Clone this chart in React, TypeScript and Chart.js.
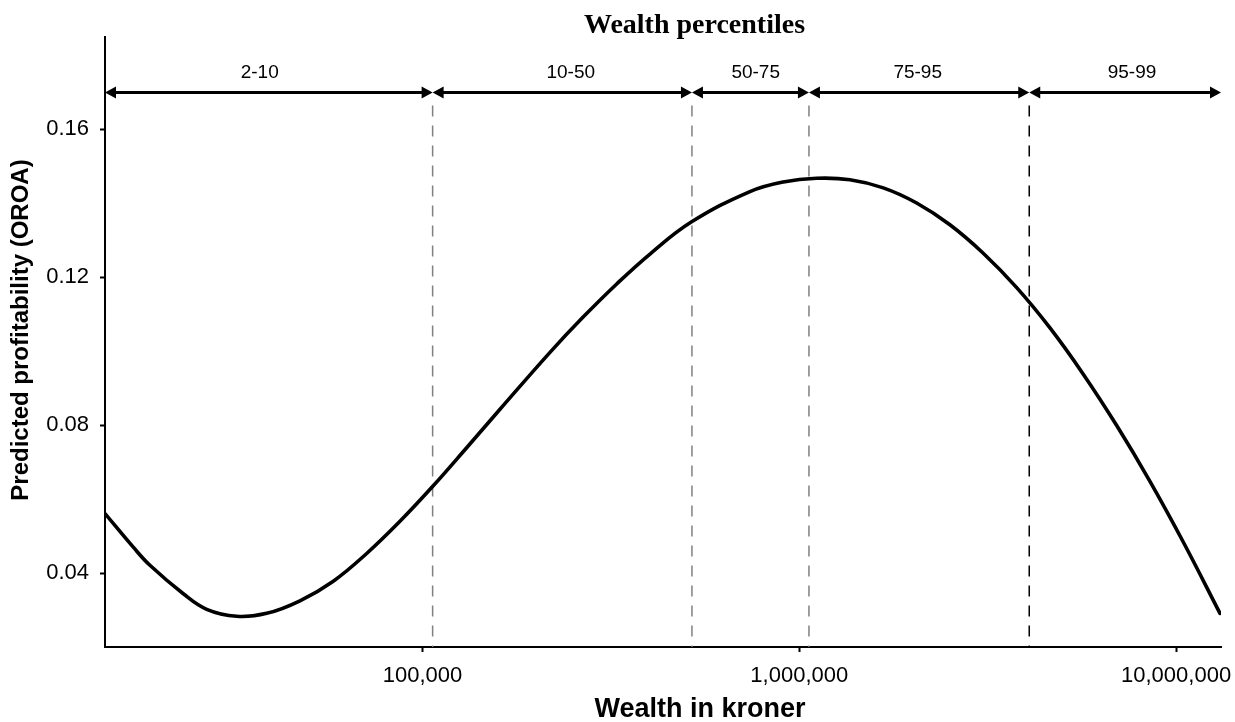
import React, { useEffect, useRef } from "react";
import { Chart, registerables } from "chart.js";

Chart.register(...registerables);

// Wealth in kroner (x) and predicted profitability (y)
const WEALTH = [
  14370, 17080, 18910, 23190, 26750, 32130, 38590, 47300, 57990, 71110,
  87150, 106800, 131000, 160600, 218000, 267300, 327700, 401600, 518000,
  739800, 906800, 1112000, 1363000, 1671000, 2049000, 2511000, 3078000,
  3776000, 4628000, 5672000, 6958000, 8525000, 10450000, 13080000,
];
const OROA = [
  0.0561, 0.047, 0.0421, 0.0344, 0.0302, 0.0283, 0.0291, 0.0325, 0.0378, 0.0453,
  0.054, 0.0636, 0.0739, 0.0843, 0.0997, 0.1093, 0.1182, 0.1263, 0.135,
  0.1432, 0.1458, 0.1468, 0.1464, 0.1442, 0.1401, 0.1342, 0.1265,
  0.1172, 0.1063, 0.0938, 0.0799, 0.0648, 0.0484, 0.0291,
];

const X_TICKS = [100000, 1000000, 10000000];
const Y_TICKS = [0.04, 0.08, 0.12, 0.16];
const X_MIN = 14370;
const X_MAX = 13160000;
const Y_MIN = 0.02;
const Y_MAX = 0.185;

// Percentile band boundaries (wealth) and labels
const BOUNDARIES = [106400, 519000, 1061000, 4077000];
const BAND_LABELS = ["2-10", "10-50", "50-75", "75-95", "95-99"];
const BAND_LABEL_AT = [36980, 247500, 766300, 2062000, 7638000];
const ARROW_LEVEL = 0.17;

const TITLE = "Wealth percentiles";
const X_TITLE = "Wealth in kroner";
const Y_TITLE = "Predicted profitability (OROA)";

const SANS = "'Liberation Sans', Arial, sans-serif";
const SERIF = "'Liberation Serif', 'Times New Roman', serif";

function arrowHead(ctx: CanvasRenderingContext2D, tipX: number, y: number, dir: number) {
  const len = 11;
  const half = 6;
  ctx.beginPath();
  ctx.moveTo(tipX, y);
  ctx.lineTo(tipX - dir * len, y - half);
  ctx.lineTo(tipX - dir * len, y + half);
  ctx.closePath();
  ctx.fill();
}

const overlay = {
  id: "overlay",
  beforeDatasetsDraw(chart: any) {
    const { ctx, chartArea, scales } = chart;
    const x = scales.x;
    const y = scales.y;
    const ay = y.getPixelForValue(ARROW_LEVEL);
    ctx.save();
    ctx.lineWidth = 1.5;
    ctx.setLineDash([11, 9]);
    BOUNDARIES.forEach((b, i) => {
      const px = x.getPixelForValue(b);
      ctx.strokeStyle = i === BOUNDARIES.length - 1 ? "#000000" : "#808080";
      ctx.beginPath();
      ctx.moveTo(px, ay + 13);
      ctx.lineTo(px, chartArea.bottom);
      ctx.stroke();
    });
    ctx.restore();
  },
  afterDatasetsDraw(chart: any) {
    const { ctx, chartArea, scales } = chart;
    const x = scales.x;
    const y = scales.y;
    const ay = y.getPixelForValue(ARROW_LEVEL);
    const edges = [chartArea.left, ...BOUNDARIES.map((b) => x.getPixelForValue(b)), chartArea.right];
    ctx.save();
    ctx.strokeStyle = "#000";
    ctx.fillStyle = "#000";
    ctx.lineWidth = 3;
    for (let i = 0; i < edges.length - 1; i++) {
      const a = edges[i];
      const b = edges[i + 1];
      ctx.beginPath();
      ctx.moveTo(a + 6, ay);
      ctx.lineTo(b - 6, ay);
      ctx.stroke();
      arrowHead(ctx, a, ay, -1);
      arrowHead(ctx, b, ay, 1);
    }
    // band labels
    ctx.font = `19px ${SANS}`;
    ctx.textAlign = "center";
    ctx.textBaseline = "middle";
    BAND_LABELS.forEach((lab, i) => {
      ctx.fillText(lab, x.getPixelForValue(BAND_LABEL_AT[i]), ay - 20);
    });
    // top title
    ctx.font = `bold 28px ${SERIF}`;
    ctx.textBaseline = "alphabetic";
    ctx.fillText(TITLE, 694.5, 33);
    // x axis title
    ctx.font = `bold 27px ${SANS}`;
    ctx.fillText(X_TITLE, 700, 717);
    // y axis title
    ctx.translate(28, 330);
    ctx.rotate(-Math.PI / 2);
    ctx.font = `bold 24px ${SANS}`;
    ctx.fillText(Y_TITLE, 0, 0);
    ctx.restore();
  },
};

export default function App() {
  const canvasRef = useRef<HTMLCanvasElement | null>(null);

  useEffect(() => {
    if (!canvasRef.current) return;
    Chart.defaults.color = "#000";
    Chart.defaults.font.family = SANS;
    const chart = new Chart(canvasRef.current, {
      type: "line",
      data: {
        datasets: [
          {
            data: WEALTH.map((w, i) => ({ x: w, y: OROA[i] })),
            borderColor: "#000",
            borderWidth: 3.6,
            pointRadius: 0,
            fill: false,
            tension: 0.4,
            borderCapStyle: "round",
            borderJoinStyle: "round",
          },
        ],
      },
      options: {
        animation: false,
        responsive: false,
        devicePixelRatio: 1,
        layout: { padding: { left: 0, right: 14, top: 37, bottom: 0 } },
        plugins: {
          legend: { display: false },
          tooltip: { enabled: false },
          title: { display: false },
        },
        scales: {
          x: {
            type: "logarithmic",
            min: X_MIN,
            max: X_MAX,
            afterBuildTicks: (s: any) => {
              s.ticks = X_TICKS.map((v) => ({ value: v }));
            },
            afterFit: (s: any) => {
              s.height = 75;
              s.paddingLeft = 0;
              s.paddingRight = 0;
            },
            ticks: {
              autoSkip: false,
              maxRotation: 0,
              padding: 11,
              font: { size: 22 },
              color: "#000",
              callback: (v: any) => Number(v).toLocaleString("en-US"),
            },
            grid: {
              display: true,
              drawOnChartArea: false,
              drawTicks: true,
              tickLength: 5,
              tickColor: "#000",
              tickWidth: 2,
            },
            border: { display: true, color: "#000", width: 2 },
          },
          y: {
            type: "linear",
            min: Y_MIN,
            max: Y_MAX,
            afterBuildTicks: (s: any) => {
              s.ticks = Y_TICKS.map((v) => ({ value: v }));
            },
            afterFit: (s: any) => {
              s.width = 105;
              s.paddingTop = 0;
              s.paddingBottom = 0;
            },
            ticks: {
              autoSkip: false,
              padding: 11,
              font: { size: 22 },
              color: "#000",
              callback: (v: any) => Number(v).toFixed(2),
            },
            grid: {
              display: true,
              drawOnChartArea: false,
              drawTicks: true,
              tickLength: 5,
              tickColor: "#000",
              tickWidth: 2,
            },
            border: { display: true, color: "#000", width: 2 },
          },
        },
      } as any,
      plugins: [overlay],
    });
    return () => chart.destroy();
  }, []);

  return (
    <div style={{ position: "absolute", left: 0, top: 0, width: 1235, height: 722, background: "#fff" }}>
      <canvas ref={canvasRef} width={1235} height={722} />
    </div>
  );
}
